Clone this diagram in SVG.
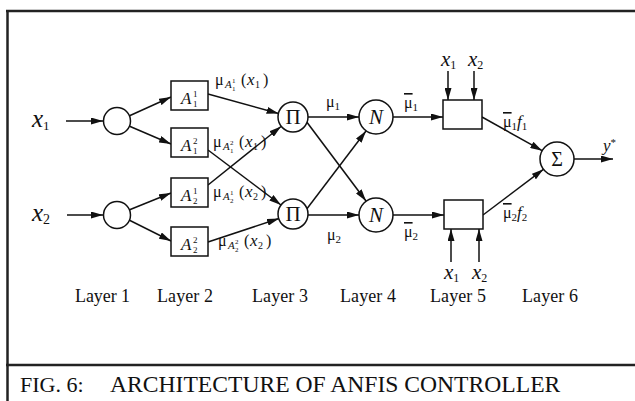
<svg xmlns="http://www.w3.org/2000/svg" width="635" height="401" viewBox="0 0 635 401">
<defs>
<marker id="arr" markerUnits="userSpaceOnUse" markerWidth="12" markerHeight="7" refX="12" refY="3.5" orient="auto">
<path d="M0,0 L12,3.5 L0,7 z" fill="#111"/>
</marker>
<style>
.ln{stroke:#111;stroke-width:1.5;fill:none}
.c{stroke:#111;stroke-width:1.5;fill:#fff}
.b{stroke:#111;stroke-width:1.5;fill:#fff}
text{font-family:"Liberation Serif","Times New Roman",serif;fill:#111}
.it{font-style:italic}
.lay{font-size:18px}
.frame{stroke:#222;stroke-width:2.5;fill:none}
</style>
</defs>
<rect x="0" y="0" width="635" height="401" fill="#fff"/>
<g id="frame">
<line class="frame" x1="6" y1="11" x2="635" y2="11"/>
<line class="frame" x1="7.5" y1="10" x2="7.5" y2="401"/>
<line class="frame" x1="6" y1="365" x2="635" y2="365"/>
</g>
<g id="connectors">
<line class="ln" x1="66" y1="121" x2="103" y2="121" marker-end="url(#arr)"/>
<line class="ln" x1="67" y1="215" x2="103" y2="215" marker-end="url(#arr)"/>
<line class="ln" x1="129" y1="116" x2="171" y2="97" marker-end="url(#arr)"/>
<line class="ln" x1="129" y1="126" x2="171" y2="144" marker-end="url(#arr)"/>
<line class="ln" x1="129" y1="210" x2="171" y2="193" marker-end="url(#arr)"/>
<line class="ln" x1="129" y1="220" x2="171" y2="241" marker-end="url(#arr)"/>
<line class="ln" x1="208" y1="94" x2="278.6" y2="113.5" marker-end="url(#arr)"/>
<line class="ln" x1="208" y1="150" x2="281" y2="205" marker-end="url(#arr)"/>
<line class="ln" x1="208" y1="185" x2="281" y2="126.5" marker-end="url(#arr)"/>
<line class="ln" x1="208" y1="242" x2="279" y2="218.5" marker-end="url(#arr)"/>
<line class="ln" x1="308" y1="117" x2="359" y2="117" marker-end="url(#arr)"/>
<line class="ln" x1="306" y1="121" x2="366" y2="201" marker-end="url(#arr)"/>
<line class="ln" x1="306" y1="210" x2="366" y2="131" marker-end="url(#arr)"/>
<line class="ln" x1="308" y1="215" x2="359" y2="215" marker-end="url(#arr)"/>
<line class="ln" x1="393" y1="117" x2="443" y2="117" marker-end="url(#arr)"/>
<line class="ln" x1="393" y1="215" x2="444" y2="215" marker-end="url(#arr)"/>
<line class="ln" x1="482" y1="117" x2="542.2" y2="150.7" marker-end="url(#arr)"/>
<line class="ln" x1="483" y1="215" x2="543.4" y2="169.3" marker-end="url(#arr)"/>
<line class="ln" x1="574" y1="159" x2="613" y2="159" marker-end="url(#arr)"/>
<line class="ln" x1="448" y1="71" x2="448" y2="100" marker-end="url(#arr)"/>
<line class="ln" x1="474" y1="71" x2="474" y2="100" marker-end="url(#arr)"/>
<line class="ln" x1="451" y1="262" x2="451" y2="229" marker-end="url(#arr)"/>
<line class="ln" x1="479" y1="262" x2="479" y2="229" marker-end="url(#arr)"/>
</g>
<g id="in-x1"><text x="32" y="127" font-size="25" class="it">x<tspan font-size="13" dy="3" font-style="normal">1</tspan></text></g>
<g id="in-x2"><text x="32" y="221" font-size="25" class="it">x<tspan font-size="14" dy="3" font-style="normal">2</tspan></text></g>
<g id="L1a"><circle class="c" cx="117" cy="121" r="13.5"/></g>
<g id="L1b"><circle class="c" cx="117" cy="215" r="13.5"/></g>
<g id="A11"><rect class="b" x="171" y="81" width="37" height="29"/>
<text x="181" y="104" font-size="17" class="it">A</text><text x="193" y="97" font-size="9">1</text><text x="193" y="107" font-size="9">1</text></g>
<g id="A12"><rect class="b" x="171" y="128" width="37" height="29"/>
<text x="181" y="151" font-size="17" class="it">A</text><text x="193" y="144" font-size="9">2</text><text x="193" y="154" font-size="9">1</text></g>
<g id="A21"><rect class="b" x="171" y="178" width="37" height="29"/>
<text x="181" y="201" font-size="17" class="it">A</text><text x="193" y="194" font-size="9">1</text><text x="193" y="204" font-size="9">2</text></g>
<g id="A22"><rect class="b" x="171" y="227" width="37" height="29"/>
<text x="181" y="250" font-size="17" class="it">A</text><text x="193" y="243" font-size="9">2</text><text x="193" y="253" font-size="9">2</text></g>
<g id="P1"><circle class="c" cx="293" cy="117" r="15"/><text x="293" y="124" font-size="21" text-anchor="middle">Π</text></g>
<g id="P2"><circle class="c" cx="293" cy="214" r="15"/><text x="293" y="221" font-size="21" text-anchor="middle">Π</text></g>
<g id="N1"><circle class="c" cx="376" cy="117" r="17"/><text x="376" y="124" font-size="21" class="it" text-anchor="middle">N</text></g>
<g id="N2"><circle class="c" cx="376" cy="215" r="17"/><text x="376" y="222" font-size="21" class="it" text-anchor="middle">N</text></g>
<g id="R1"><rect class="b" x="443" y="100" width="39" height="29"/></g>
<g id="R2"><rect class="b" x="444" y="200" width="39" height="29"/></g>
<g id="S"><circle class="c" cx="557" cy="159" r="17"/><text x="557" y="166" font-size="20" text-anchor="middle">Σ</text></g>
<g id="labels">
<text x="215" y="85" font-size="16">μ<tspan x="225" y="88" font-size="11" class="it">A</tspan><tspan x="232" y="83" font-size="7">1</tspan><tspan x="232" y="91" font-size="7">1</tspan><tspan x="241" y="85" font-size="16">(</tspan><tspan x="247" y="85" font-size="17" class="it">x</tspan><tspan x="255" y="88" font-size="10">1</tspan><tspan x="263" y="85" font-size="16">)</tspan></text>
<text x="213" y="147" font-size="16">μ<tspan x="223" y="150" font-size="11" class="it">A</tspan><tspan x="230" y="145" font-size="7">2</tspan><tspan x="230" y="153" font-size="7">1</tspan><tspan x="239" y="147" font-size="16">(</tspan><tspan x="245" y="147" font-size="17" class="it">x</tspan><tspan x="253" y="150" font-size="10">1</tspan><tspan x="261" y="147" font-size="16">)</tspan></text>
<text x="213" y="197" font-size="16">μ<tspan x="223" y="200" font-size="11" class="it">A</tspan><tspan x="230" y="195" font-size="7">1</tspan><tspan x="230" y="203" font-size="7">2</tspan><tspan x="239" y="197" font-size="16">(</tspan><tspan x="245" y="197" font-size="17" class="it">x</tspan><tspan x="253" y="200" font-size="10">2</tspan><tspan x="261" y="197" font-size="16">)</tspan></text>
<text x="218" y="246" font-size="16">μ<tspan x="228" y="249" font-size="11" class="it">A</tspan><tspan x="235" y="244" font-size="7">2</tspan><tspan x="235" y="252" font-size="7">2</tspan><tspan x="244" y="246" font-size="16">(</tspan><tspan x="250" y="246" font-size="17" class="it">x</tspan><tspan x="258" y="249" font-size="10">2</tspan><tspan x="266" y="246" font-size="16">)</tspan></text>
<text x="326" y="107" font-size="16">μ<tspan font-size="11" dy="3">1</tspan></text>
<text x="327" y="240" font-size="16">μ<tspan font-size="11" dy="3">2</tspan></text>
<text x="404" y="108" font-size="16"><tspan text-decoration="overline">μ</tspan><tspan font-size="11" dy="3">1</tspan></text>
<text x="404" y="237" font-size="16"><tspan text-decoration="overline">μ</tspan><tspan font-size="11" dy="3">2</tspan></text>
<text x="503" y="127" font-size="16"><tspan text-decoration="overline">μ</tspan><tspan font-size="11" dy="3">1</tspan><tspan class="it" font-size="17" dy="-3">f</tspan><tspan font-size="11" dy="3">1</tspan></text>
<text x="503" y="218" font-size="16"><tspan text-decoration="overline">μ</tspan><tspan font-size="11" dy="3">2</tspan><tspan class="it" font-size="17" dy="-3">f</tspan><tspan font-size="11" dy="3">2</tspan></text>
<text x="441" y="66" font-size="21" class="it">x<tspan font-size="12" dy="3" font-style="normal">1</tspan></text>
<text x="468" y="66" font-size="21" class="it">x<tspan font-size="12" dy="3" font-style="normal">2</tspan></text>
<text x="444" y="279" font-size="21" class="it">x<tspan font-size="12" dy="3" font-style="normal">1</tspan></text>
<text x="472" y="279" font-size="21" class="it">x<tspan font-size="12" dy="3" font-style="normal">2</tspan></text>
<text x="603" y="151" font-size="17" class="it">y<tspan font-size="11" dy="-5" font-style="normal">*</tspan></text>
</g>
<g id="layers">
<text class="lay" x="75" y="302" textLength="55">Layer 1</text>
<text class="lay" x="157" y="302" textLength="56">Layer 2</text>
<text class="lay" x="252" y="302" textLength="56">Layer 3</text>
<text class="lay" x="340" y="302" textLength="56">Layer 4</text>
<text class="lay" x="430" y="302" textLength="56">Layer 5</text>
<text class="lay" x="522" y="302" textLength="56">Layer 6</text>
</g>
<g id="caption">
<text y="392" font-size="22"><tspan x="20">FIG. 6:</tspan><tspan x="110" font-size="23.6">ARCHITECTURE OF ANFIS CONTROLLER</tspan></text>
</g>
</svg>
